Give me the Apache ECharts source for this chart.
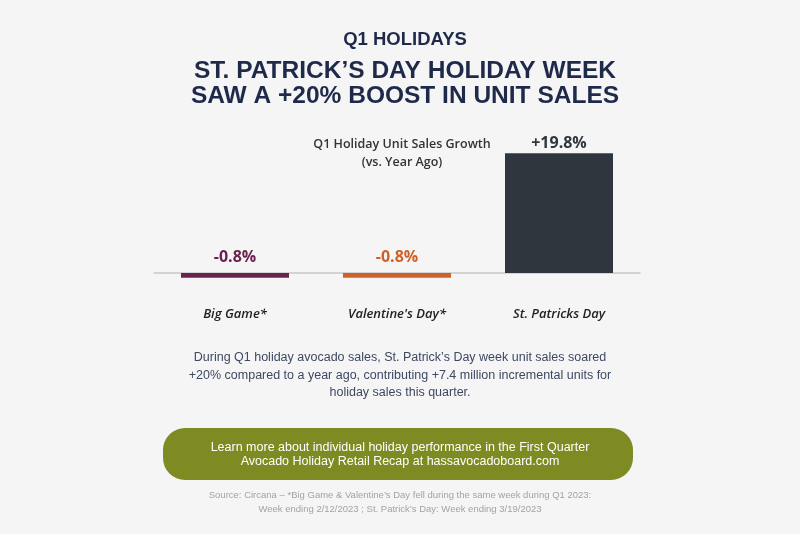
<!DOCTYPE html>
<html><head><meta charset="utf-8">
<script src="https://cdn.jsdelivr.net/npm/echarts@6/dist/echarts.min.js"></script>
<style>html,body{margin:0;padding:0;background:#f5f5f5;}#c{width:800px;height:534px;}</style>
</head><body><div id="c"></div>
<script>
const categories = ["Big Game*", "Valentine's Day*", "St. Patricks Day"];
const growth = [-0.8, -0.8, 19.8];
const valueLabels = ["-0.8%", "-0.8%", "+19.8%"];

const barColors = ["#6b2150", "#cf6128", "#2f363d"];
const navy = "#1f2a4b";

const chart = echarts.init(document.getElementById('c'));
chart.setOption({
  backgroundColor: '#f5f5f5',
  animation: false,
  title: [
    {text: 'Q1 HOLIDAYS', left: 400, top: 25, textAlign: 'center',
     textStyle: {fontFamily: 'Liberation Sans', fontWeight: 'bold', fontSize: 18.5, color: navy}},
    {text: 'ST. PATRICK\u2019S DAY HOLIDAY WEEK\nSAW A +20% BOOST IN UNIT SALES', left: 400, top: 53, textAlign: 'center',
     textStyle: {fontFamily: 'Liberation Sans', fontWeight: 'bold', fontSize: 24.5, lineHeight: 25.5, color: navy}},
    {text: 'Q1 Holiday Unit Sales Growth\n(vs. Year Ago)', left: 397, top: 130, textAlign: 'center',
     textStyle: {fontFamily: 'Open Sans', fontWeight: 600, fontSize: 12.5, lineHeight: 18, color: '#333'}}
  ],
  grid: {left: 154, width: 486, top: 152, height: 133},
  xAxis: {
    type: 'category', data: categories,
    axisLine: {show: true, lineStyle: {color: '#c8c8c8', width: 1.5}},
    axisTick: {show: false},
    axisLabel: {margin: 23, fontFamily: 'Open Sans', fontStyle: 'italic', fontWeight: 600, fontSize: 13, color: '#222'}
  },
  yAxis: {type: 'value', min: -2, max: 20, show: false, splitLine: {show: false}},
  series: [{
    type: 'bar', barWidth: 108,
    data: growth.map((v, i) => ({
      value: v,
      itemStyle: {color: barColors[i]},
      label: {show: true, position: 'top', distance: i < 2 ? 7 : 2, formatter: valueLabels[i],
              color: barColors[i], fontFamily: 'Open Sans', fontWeight: 'bold', fontSize: 16}
    }))
  }],
  graphic: [
    {type: 'text', left: 'center', top: 349,
     style: {text: "During Q1 holiday avocado sales, St. Patrick\u2019s Day week unit sales soared\n+20% compared to a year ago, contributing +7.4 million incremental units for\nholiday sales this quarter.",
             textAlign: 'center', font: '12.5px "Liberation Sans"', lineHeight: 17.5, fill: '#3d4862'}},
    {type: 'rect', shape: {x: 163, y: 428, width: 470, height: 52, r: 22}, style: {fill: '#7e8a22'}},
    {type: 'text', left: 'center', top: 440,
     style: {text: "Learn more about individual holiday performance in the First Quarter\nAvocado Holiday Retail Recap at hassavocadoboard.com",
             textAlign: 'center', font: '12.5px "Liberation Sans"', lineHeight: 14.5, fill: '#ffffff'}},
    {type: 'text', left: 'center', top: 488,
     style: {text: "Source: Circana \u2013 *Big Game & Valentine\u2019s Day fell during the same week during Q1 2023:\nWeek ending 2/12/2023 ; St. Patrick\u2019s Day: Week ending 3/19/2023",
             textAlign: 'center', font: '9.5px "Liberation Sans"', lineHeight: 14, fill: '#a3a3a3'}}
  ]
});
</script></body></html>
